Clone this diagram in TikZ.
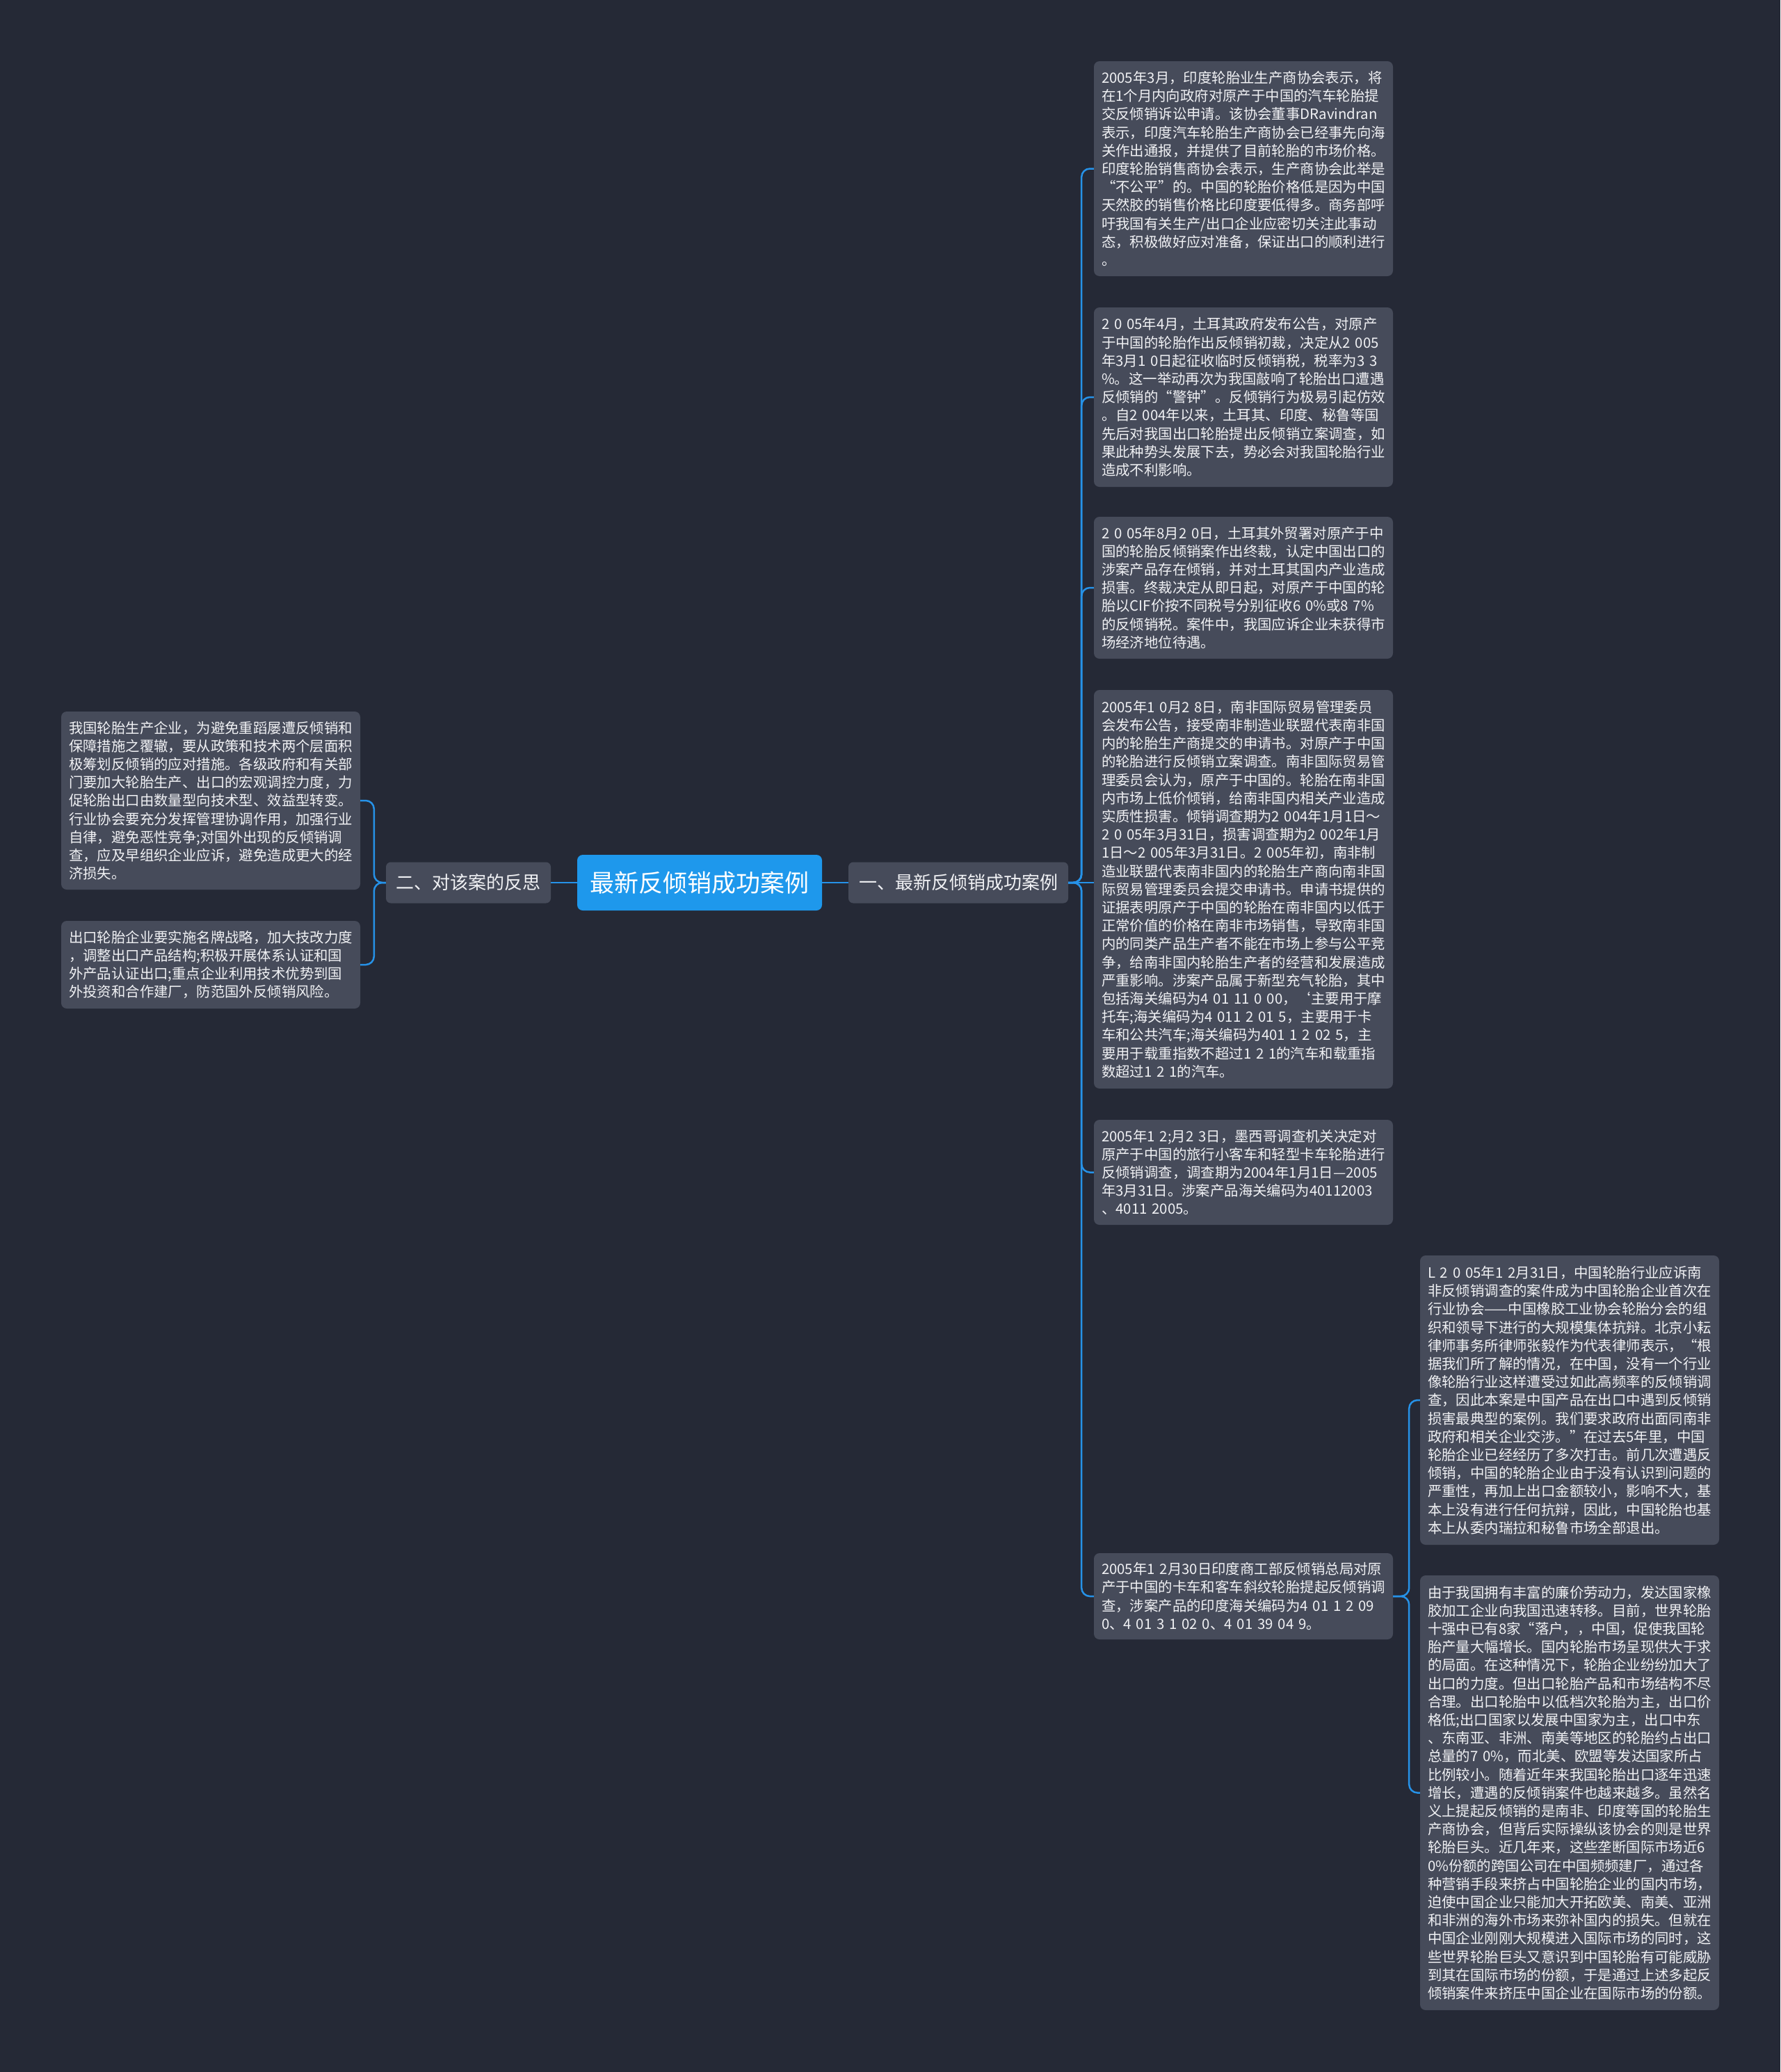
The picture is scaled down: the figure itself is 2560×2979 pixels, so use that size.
\documentclass[tikz,border=0pt]{standalone}
\usepackage{fontspec}
\setmainfont{Noto Sans CJK SC}
\definecolor{bgc}{RGB}{37,41,54}
\definecolor{boxc}{RGB}{70,75,90}
\definecolor{txtc}{RGB}{240,241,244}
\definecolor{bluec}{RGB}{30,152,236}
\definecolor{linec}{RGB}{38,146,232}
\tikzset{
  tbox/.style={fill=boxc, rounded corners=8pt, text=txtc, align=left,
    inner xsep=11pt, inner ysep=0pt, text width=408pt, minimum width=430pt,
    font=\fontsize{20.4}{26.2}\selectfont},
  lvone/.style={fill=boxc, rounded corners=7pt, text=txtc, inner xsep=14pt,
    minimum height=59pt, font=\fontsize{26}{30}\selectfont},
  rootnode/.style={fill=bluec, rounded corners=8pt, text=white, minimum width=352pt,
    minimum height=80pt, font=\fontsize{35}{40}\selectfont},
  conn/.style={draw=linec, line width=2.5pt, rounded corners=12pt}
}
\begin{document}
\begin{tikzpicture}[x=1pt,y=-1pt]
\useasboundingbox (0,0) rectangle (2560,2979);
\fill[bgc] (0,0) rectangle (2560,2979);

\node[rootnode] (root) at (1006,1269) {最新反倾销成功案例};
\node[lvone, minimum width=316pt] (n1) at (1378,1269) {一、最新反倾销成功案例};
\node[lvone, minimum width=237pt] (n2) at (673.5,1269) {二、对该案的反思};

\node[tbox, minimum height=309pt] (b1) at (1788,242.5) {2005年3月，印度轮胎业生产商协会表示，将\\
在1个月内向政府对原产于中国的汽车轮胎提\\
交反倾销诉讼申请。该协会董事DRavindran\\
表示，印度汽车轮胎生产商协会已经事先向海\\
关作出通报，并提供了目前轮胎的市场价格。\\
印度轮胎销售商协会表示，生产商协会此举是\\
“不公平”的。中国的轮胎价格低是因为中国\\
天然胶的销售价格比印度要低得多。商务部呼\\
吁我国有关生产/出口企业应密切关注此事动\\
态，积极做好应对准备，保证出口的顺利进行\\
。};

\node[tbox, minimum height=258pt] (b2) at (1788,571) {2 0 05年4月，土耳其政府发布公告，对原产\\
于中国的轮胎作出反倾销初裁，决定从2 005\\
年3月1 0日起征收临时反倾销税，税率为3 3\\
\%。这一举动再次为我国敲响了轮胎出口遭遇\\
反倾销的“警钟”。反倾销行为极易引起仿效\\
。自2 004年以来，土耳其、印度、秘鲁等国\\
先后对我国出口轮胎提出反倾销立案调查，如\\
果此种势头发展下去，势必会对我国轮胎行业\\
造成不利影响。};

\node[tbox, minimum height=204pt] (b3) at (1788,845) {2 0 05年8月2 0日，土耳其外贸署对原产于中\\
国的轮胎反倾销案作出终裁，认定中国出口的\\
涉案产品存在倾销，并对土耳其国内产业造成\\
损害。终裁决定从即日起，对原产于中国的轮\\
胎以CIF价按不同税号分别征收6 0\%或8 7\%\\
的反倾销税。案件中，我国应诉企业未获得市\\
场经济地位待遇。};

\node[tbox, minimum height=573pt] (b4) at (1788,1278.5) {2005年1 0月2 8日，南非国际贸易管理委员\\
会发布公告，接受南非制造业联盟代表南非国\\
内的轮胎生产商提交的申请书。对原产于中国\\
的轮胎进行反倾销立案调查。南非国际贸易管\\
理委员会认为，原产于中国的。轮胎在南非国\\
内市场上低价倾销，给南非国内相关产业造成\\
实质性损害。倾销调查期为2 004年1月1日～\\
2 0 05年3月31日，损害调查期为2 002年1月\\
1日～2 005年3月31日。2 005年初，南非制\\
造业联盟代表南非国内的轮胎生产商向南非国\\
际贸易管理委员会提交申请书。申请书提供的\\
证据表明原产于中国的轮胎在南非国内以低于\\
正常价值的价格在南非市场销售，导致南非国\\
内的同类产品生产者不能在市场上参与公平竞\\
争，给南非国内轮胎生产者的经营和发展造成\\
严重影响。涉案产品属于新型充气轮胎，其中\\
\mbox{包括海关编码为4 01 11 0 00，‘主要用于摩}\\
托车;海关编码为4 011 2 01 5，主要用于卡\\
车和公共汽车;海关编码为401 1 2 02 5，主\\
要用于载重指数不超过1 2 1的汽车和载重指\\
数超过1 2 1的汽车。};

\node[tbox, minimum height=151pt] (b5) at (1788,1685.5) {2005年1 2;月2 3日，墨西哥调查机关决定对\\
原产于中国的旅行小客车和轻型卡车轮胎进行\\
反倾销调查，调查期为2004年1月1日—2005\\
年3月31日。涉案产品海关编码为40112003\\
、4011 2005。};

\node[tbox, minimum height=124pt] (b6) at (1788,2295) {2005年1 2月30日印度商工部反倾销总局对原\\
产于中国的卡车和客车斜纹轮胎提起反倾销调\\
查，涉案产品的印度海关编码为4 01 1 2 09\\
0、4 01 3 1 02 0、4 01 39 04 9。};

\node[tbox, minimum height=416pt] (b7) at (2257,2013) {L 2 0 05年1 2月31日，中国轮胎行业应诉南\\
非反倾销调查的案件成为中国轮胎企业首次在\\
行业协会——中国橡胶工业协会轮胎分会的组\\
织和领导下进行的大规模集体抗辩。北京小耘\\
律师事务所律师张毅作为代表律师表示，“根\\
据我们所了解的情况，在中国，没有一个行业\\
像轮胎行业这样遭受过如此高频率的反倾销调\\
查，因此本案是中国产品在出口中遇到反倾销\\
损害最典型的案例。我们要求政府出面同南非\\
政府和相关企业交涉。”在过去5年里，中国\\
轮胎企业已经经历了多次打击。前几次遭遇反\\
倾销，中国的轮胎企业由于没有认识到问题的\\
严重性，再加上出口金额较小，影响不大，基\\
本上没有进行任何抗辩，因此，中国轮胎也基\\
本上从委内瑞拉和秘鲁市场全部退出。};

\node[tbox, minimum height=625pt] (b8) at (2257,2577.5) {由于我国拥有丰富的廉价劳动力，发达国家橡\\
胶加工企业向我国迅速转移。目前，世界轮胎\\
十强中已有8家“落户，，中国，促使我国轮\\
胎产量大幅增长。国内轮胎市场呈现供大于求\\
的局面。在这种情况下，轮胎企业纷纷加大了\\
出口的力度。但出口轮胎产品和市场结构不尽\\
合理。出口轮胎中以低档次轮胎为主，出口价\\
格低;出口国家以发展中国家为主，出口中东\\
、东南亚、非洲、南美等地区的轮胎约占出口\\
总量的7 0\%，而北美、欧盟等发达国家所占\\
比例较小。随着近年来我国轮胎出口逐年迅速\\
增长，遭遇的反倾销案件也越来越多。虽然名\\
义上提起反倾销的是南非、印度等国的轮胎生\\
产商协会，但背后实际操纵该协会的则是世界\\
轮胎巨头。近几年来，这些垄断国际市场近6\\
0\%份额的跨国公司在中国频频建厂，通过各\\
种营销手段来挤占中国轮胎企业的国内市场，\\
迫使中国企业只能加大开拓欧美、南美、亚洲\\
和非洲的海外市场来弥补国内的损失。但就在\\
中国企业刚刚大规模进入国际市场的同时，这\\
些世界轮胎巨头又意识到中国轮胎有可能威胁\\
到其在国际市场的份额，于是通过上述多起反\\
倾销案件来挤压中国企业在国际市场的份额。};

\node[tbox, minimum height=256pt] (l1) at (303,1151) {我国轮胎生产企业，为避免重蹈屡遭反倾销和\\
保障措施之覆辙，要从政策和技术两个层面积\\
极筹划反倾销的应对措施。各级政府和有关部\\
门要加大轮胎生产、出口的宏观调控力度，力\\
促轮胎出口由数量型向技术型、效益型转变。\\
行业协会要充分发挥管理协调作用，加强行业\\
自律，避免恶性竞争;对国外出现的反倾销调\\
查，应及早组织企业应诉，避免造成更大的经\\
济损失。};

\node[tbox, minimum height=126pt] (l2) at (303,1387) {出口轮胎企业要实施名牌战略，加大技改力度\\
，调整出口产品结构;积极开展体系认证和国\\
外产品认证出口;重点企业利用技术优势到国\\
外投资和合作建厂，防范国外反倾销风险。};

% connectors
\draw[conn] (root.east) -- (n1.west);
\draw[conn] (root.west) -- (n2.east);
\draw[conn] (n1.east) -- ++(19,0) |- (b1.west);
\draw[conn] (n1.east) -- ++(19,0) |- (b2.west);
\draw[conn] (n1.east) -- ++(19,0) |- (b3.west);
\draw[conn] (n1.east) -- (n1.east -| b4.west);
\draw[conn] (n1.east) -- ++(19,0) |- (b5.west);
\draw[conn] (n1.east) -- ++(19,0) |- (b6.west);
\draw[conn] (b6.east) -- ++(23,0) |- (b7.west);
\draw[conn] (b6.east) -- ++(23,0) |- (b8.west);
\draw[conn] (n2.west) -- ++(-17,0) |- (l1.east);
\draw[conn] (n2.west) -- ++(-17,0) |- (l2.east);
\end{tikzpicture}
\end{document}
